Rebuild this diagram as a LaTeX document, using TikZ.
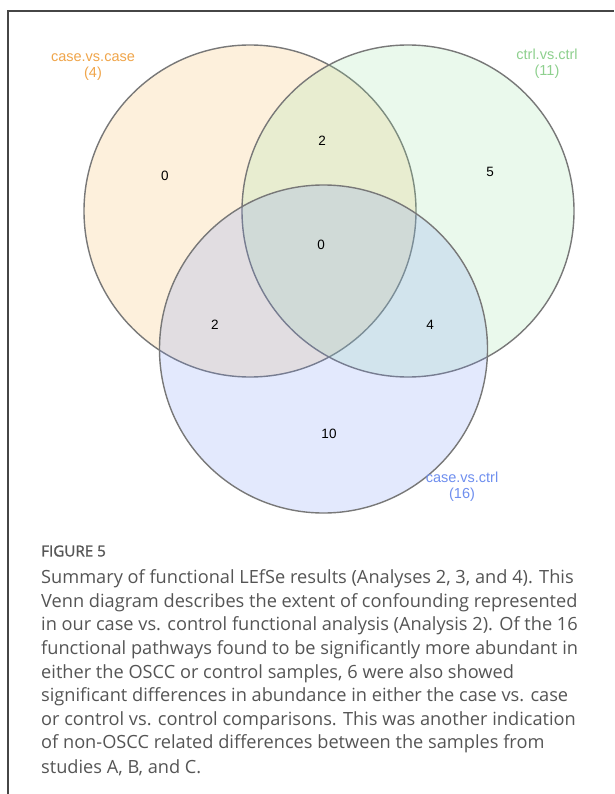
\documentclass[tikz,border=0pt]{standalone}
\usepackage{fontspec}
\setmainfont{Liberation Sans}
\newfontfamily\capfont{Open Sans}
\usepackage{tikz}

\definecolor{caseorange}{RGB}{245,180,80}
\definecolor{ctrlgreen}{RGB}{150,225,160}
\definecolor{mixblue}{RGB}{115,145,245}
\definecolor{labelorange}{RGB}{240,165,74}
\definecolor{labelgreen}{RGB}{142,208,142}
\definecolor{labelblue}{RGB}{111,143,239}
\definecolor{ringgray}{RGB}{120,120,120}
\definecolor{framegray}{RGB}{70,70,70}
\definecolor{capgray}{RGB}{85,85,85}

\begin{document}
\begin{tikzpicture}[x=1pt,y=-1pt]
\tikzstyle{every node}+=[inner sep=0pt]
\tikzstyle{ring}=[draw=ringgray,line width=1.4pt,fill opacity=0.2]
\tikzstyle{count}=[font=\fontsize{13.5}{16}\selectfont,text=black]
\tikzstyle{setname}=[font=\fontsize{14.5}{16}\selectfont,align=center]
\tikzstyle{capline}=[font=\capfont\fontsize{18.2}{20}\selectfont,text=capgray,anchor=west]
\useasboundingbox (0,0) rectangle (614,794);
  \fill [white] (0,0) rectangle (614,794);
  \draw [framegray,line width=1.3pt] (8,794) -- (8,11) -- (614,11);
  % the three sets
  \filldraw [ring,fill=caseorange] (250,211) circle (166);
  \filldraw [ring,fill=ctrlgreen] (408,211) circle (166);
  \filldraw [ring,fill=mixblue] (323.5,349) circle (164);
  \node [setname,text=labelorange] (casecase) at (93,67) {case.vs.case\\(4)};
  \node [setname,text=labelgreen] (ctrlctrl) at (547,64) {ctrl.vs.ctrl\\(11)};
  \node [setname,text=labelblue] (casectrl) at (462,487) {case.vs.ctrl\\(16)};
  \node [count] (onlycase) at (165,176) {0};
  \node [count] (casectrlx) at (322,141) {2};
  \node [count] (onlyctrl) at (490,172) {5};
  \node [count] (allthree) at (321,245) {0};
  \node [count] (casemix) at (215,325) {2};
  \node [count] (ctrlmix) at (430,325) {4};
  \node [count] (onlymix) at (329,434) {10};
  % caption
  \node [capline,font=\capfont\fontsize{15.2}{16}\selectfont\addfontfeatures{FakeBold=1.2}] (figtitle) at (41,551) {FIGURE 5};
  \foreach \txt [count=\i] in {
    {Summary of functional LEfSe results (Analyses 2, 3, and 4). This},
    {Venn diagram describes the extent of confounding represented},
    {in our case vs. control functional analysis (Analysis 2). Of the 16},
    {functional pathways found to be significantly more abundant in},
    {either the OSCC or control samples, 6 were also showed},
    {significant differences in abundance in either the case vs. case},
    {or control vs. control comparisons. This was another indication},
    {of non-OSCC related differences between the samples from},
    {studies A, B, and C.}}
    \node [capline] (cap\i) at (41,{579+23.6*(\i-1)}) {\txt};
\end{tikzpicture}
\end{document}
